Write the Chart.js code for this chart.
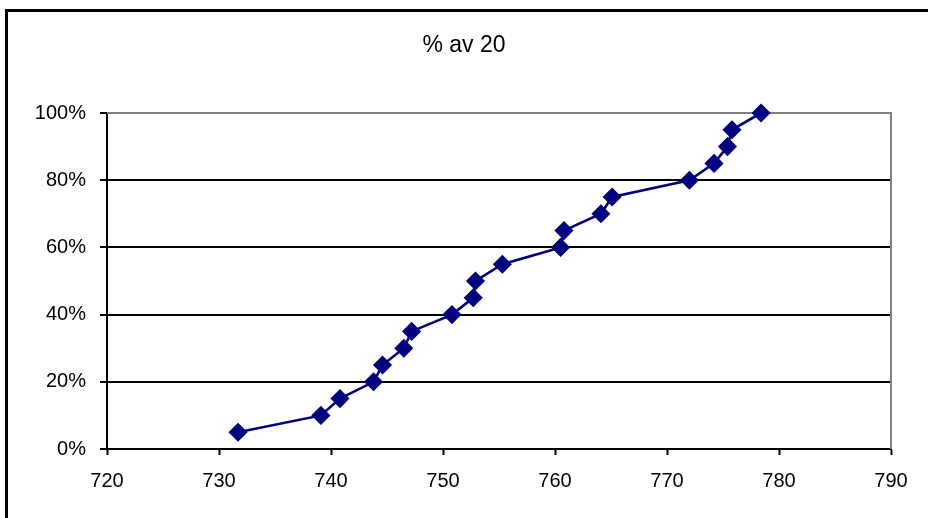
<!DOCTYPE html>
<html>
<head>
<meta charset="utf-8">
<script src="https://cdn.jsdelivr.net/npm/chart.js@4"></script>
<style>
  body { margin: 0; background: #fff; overflow: hidden; }
  #wrap { position: relative; width: 928px; height: 518px; }
  #frame { position: absolute; left: 5px; top: 9px; width: 2000px; height: 2000px;
           border-left: 3px solid #000; border-top: 3px solid #000; }
  #chart { position: absolute; left: 0; top: 0; }
</style>
</head>
<body>
<div id="wrap">
  <div id="frame"></div>
  <canvas id="chart" width="928" height="518"></canvas>
</div>
<script>
const titleText = "% av 20";

// measured values (x) and cumulative share (y)
const xValues = [731.7, 739.1, 740.8, 743.8, 744.6, 746.5, 747.2, 750.8, 752.7, 752.9,
                 755.3, 760.5, 760.8, 764.1, 765.1, 772.0, 774.2, 775.4, 775.8, 778.4];
const yValues = [0.05, 0.10, 0.15, 0.20, 0.25, 0.30, 0.35, 0.40, 0.45, 0.50,
                 0.55, 0.60, 0.65, 0.70, 0.75, 0.80, 0.85, 0.90, 0.95, 1.00];

const xTicks = [720, 730, 740, 750, 760, 770, 780, 790];
const yTicks = [0, 0.2, 0.4, 0.6, 0.8, 1.0];

const points = xValues.map(function (x, i) {
  return { x: x, y: yValues[i] };
});

const fontFamily = "'Liberation Sans', Arial, sans-serif";

// grey frame on top and right of plot area + title
const plotDecor = {
  id: "plotDecor",
  beforeDatasetsDraw(chart) {
    const a = chart.chartArea;
    const ctx = chart.ctx;
    ctx.save();
    ctx.strokeStyle = "#808080";
    ctx.lineWidth = 2;
    ctx.beginPath();
    ctx.moveTo(a.left, a.top);
    ctx.lineTo(a.right, a.top);
    ctx.lineTo(a.right, a.bottom);
    ctx.stroke();
    ctx.restore();
  },
  afterDraw(chart) {
    const ctx = chart.ctx;
    ctx.save();
    ctx.fillStyle = "#000";
    ctx.font = "23px " + fontFamily;
    ctx.textAlign = "center";
    ctx.textBaseline = "middle";
    ctx.fillText(titleText, 464, 46);
    ctx.restore();
  }
};

const ctx = document.getElementById("chart").getContext("2d");
new Chart(ctx, {
  type: "scatter",
  data: {
    datasets: [{
      data: points,
      showLine: true,
      clip: false,
      borderColor: "#000080",
      backgroundColor: "#000080",
      borderWidth: 2.6,
      pointStyle: "rectRot",
      pointRadius: 8.5,
      pointBorderWidth: 1.5,
      pointBorderColor: "#000080",
      pointBackgroundColor: "#000080"
    }]
  },
  options: {
    responsive: false,
    animation: false,
    layout: { padding: { left: 0, top: 113, right: 37, bottom: 0 } },
    plugins: {
      legend: { display: false },
      title: { display: false },
      tooltip: { enabled: false }
    },
    scales: {
      x: {
        type: "linear",
        min: 720,
        max: 790,
        afterBuildTicks(scale) {
          scale.ticks = xTicks.map(v => ({ value: v }));
        },
        afterFit(scale) { scale.height = 69; },
        grid: {
          drawOnChartArea: false,
          drawTicks: true,
          tickLength: 6,
          tickColor: "#000",
          tickWidth: 2
        },
        border: { color: "#000", width: 2 },
        ticks: {
          color: "#000",
          padding: 14,
          maxRotation: 0,
          font: { family: fontFamily, size: 20 }
        }
      },
      y: {
        type: "linear",
        min: 0,
        max: 1,
        afterBuildTicks(scale) {
          scale.ticks = yTicks.map(v => ({ value: v }));
        },
        afterFit(scale) { scale.width = 107; },
        grid: {
          color: c => (c.tick && c.tick.value === 1 ? "#808080" : "#000"),
          lineWidth: 2,
          drawTicks: true,
          tickLength: 7,
          tickColor: "#000",
          tickWidth: 2
        },
        border: { color: "#000", width: 2 },
        ticks: {
          color: "#000",
          padding: 14,
          font: { family: fontFamily, size: 20 },
          callback: v => Math.round(v * 100) + "%"
        }
      }
    }
  },
  plugins: [plotDecor]
});
</script>
</body>
</html>
